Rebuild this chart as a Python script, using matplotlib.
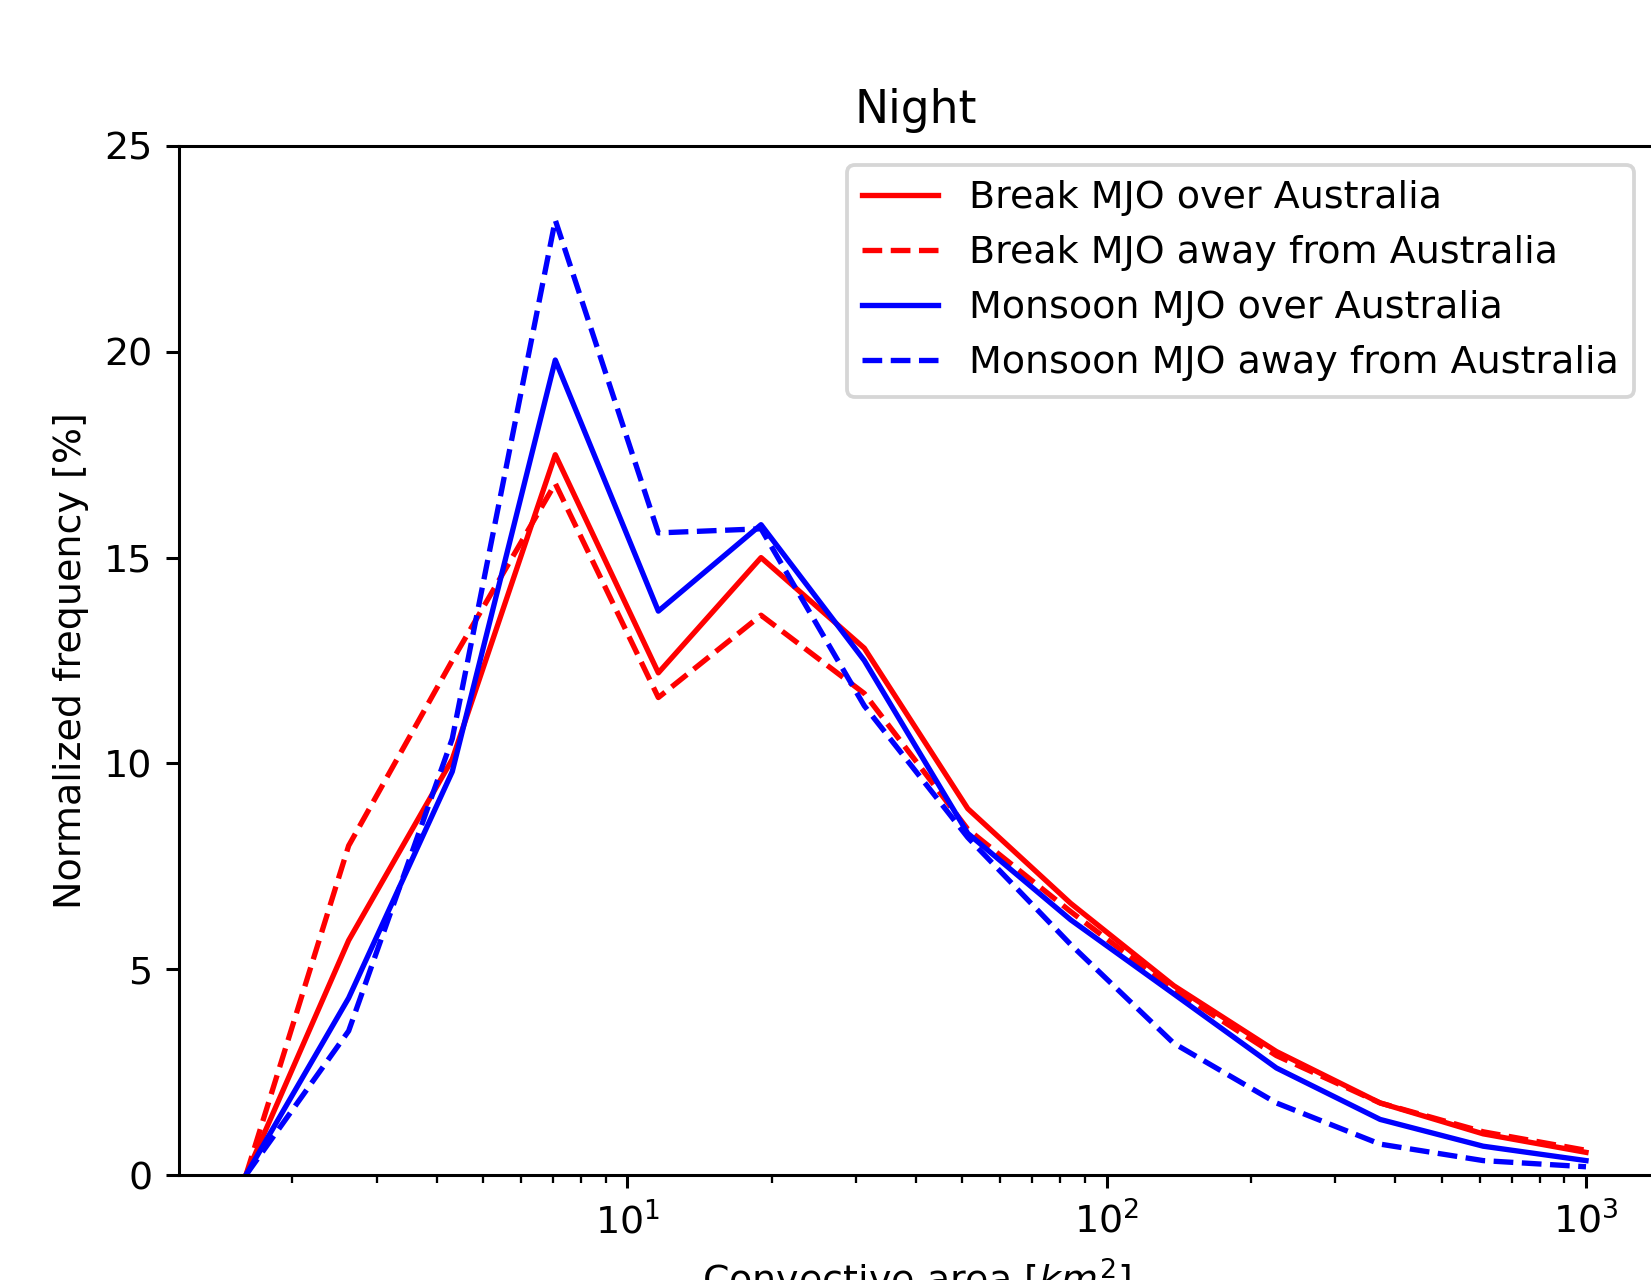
import matplotlib
matplotlib.use("Agg")
import matplotlib.pyplot as plt

area = [1.6, 2.62, 4.31, 7.07, 11.6, 19.0, 31.2, 51.3, 84.1, 138, 226, 372, 610, 1000]

break_over = [0.0, 5.7, 10.1, 17.5, 12.2, 15.0, 12.8, 8.9, 6.6, 4.6, 3.0, 1.75, 1.0, 0.55]
break_away = [0.0, 8.0, 12.5, 16.8, 11.6, 13.6, 11.7, 8.4, 6.4, 4.5, 2.9, 1.75, 1.05, 0.6]
monsoon_over = [0.0, 4.3, 9.8, 19.8, 13.7, 15.8, 12.5, 8.3, 6.2, 4.4, 2.6, 1.35, 0.7, 0.35]
monsoon_away = [0.0, 3.5, 10.6, 23.2, 15.6, 15.7, 11.4, 8.2, 5.6, 3.2, 1.75, 0.75, 0.35, 0.2]

labels = ["Break MJO over Australia", "Break MJO away from Australia",
          "Monsoon MJO over Australia", "Monsoon MJO away from Australia"]

dpi = 274
fig = plt.figure(figsize=(1651 / dpi, 1280 / dpi), dpi=dpi)
ax = fig.add_axes([179 / 1651, 105 / 1280, (1653 - 179) / 1651, (1134 - 105) / 1280])

ax.plot(area, break_over, color="red", linestyle="-", lw=1.4, label=labels[0])
ax.plot(area, break_away, color="red", linestyle="--", lw=1.4, label=labels[1])
ax.plot(area, monsoon_over, color="blue", linestyle="-", lw=1.4, label=labels[2])
ax.plot(area, monsoon_away, color="blue", linestyle="--", lw=1.4, label=labels[3])

ax.set_xscale("log")
ax.set_ylim(0, 25)
ax.set_title("Night")
ax.set_xlabel("Convective area [$km^2$]")
ax.set_ylabel("Normalized frequency [%]")
ax.legend(loc="upper right")

fig.savefig("out.png", dpi=dpi)
